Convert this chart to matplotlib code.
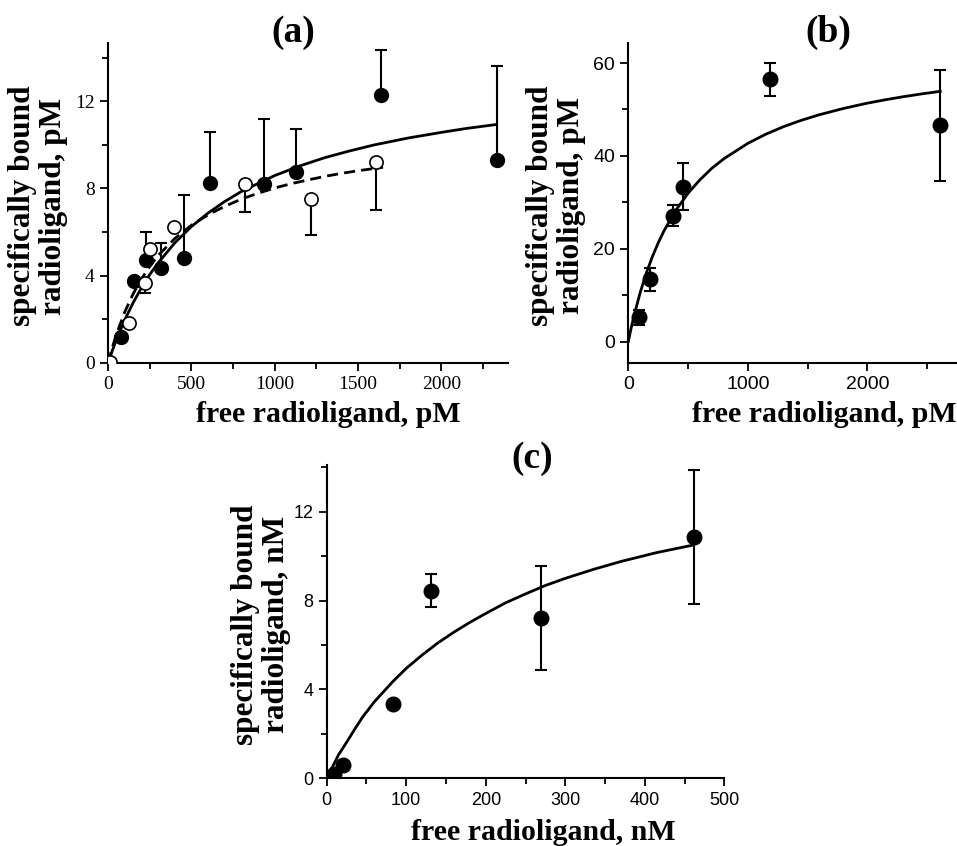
import numpy as np
import matplotlib as mpl
mpl.use('Agg')
import matplotlib.pyplot as plt
from matplotlib.ticker import MultipleLocator

mpl.rc('axes', linewidth=1.5)

# ---- panel (a): filled = set 1, open = set 2 ----
a_fill_x = [80, 156, 230, 316, 454, 614, 934, 1130, 1636, 2334]
a_fill_y = [1.2, 3.77, 4.72, 4.37, 4.83, 8.26, 8.21, 8.77, 12.28, 9.32]
a_fill_err = [0, 0, 1.30, 1.12, 2.88, 2.33, 2.98, 1.97, 2.06, 4.30]

a_open_x = [10, 126, 224, 250, 396, 820, 1216, 1610]
a_open_y = [0.05, 1.84, 3.68, 5.21, 6.21, 8.21, 7.51, 9.2]
a_open_err = [0, 0, 0.49, 0, 0, 1.30, 1.66, 2.21]

# fitted curves
a_fit_x = [0, 25, 50, 100, 150, 200, 250, 300, 400, 500, 600, 700, 800, 1000,
           1150, 1300, 1450, 1600, 1800, 2000, 2150, 2330]
a_fit_y = [0, 0.55, 1.06, 1.97, 2.75, 3.44, 4.05, 4.58, 5.50, 6.25, 6.87, 7.40,
           7.86, 8.59, 9.03, 9.41, 9.72, 10.0, 10.31, 10.57, 10.75, 10.93]
a_dash_x = [0, 25, 50, 100, 150, 200, 250, 300, 400, 500, 600, 700, 800, 900,
            1000, 1100, 1200, 1300, 1400, 1500, 1650]
a_dash_y = [0, 0.69, 1.31, 2.33, 3.16, 3.85, 4.42, 4.92, 5.70, 6.31, 6.79, 7.18,
            7.51, 7.78, 8.02, 8.22, 8.39, 8.55, 8.69, 8.81, 8.97]

# ---- panel (b) ----
b_x = [89, 181, 376, 460, 1184, 2610]
b_y = [5.24, 13.4, 27.1, 33.4, 56.5, 46.6]
b_err = [1.6, 2.4, 2.3, 5.0, 3.5, 12.0]
b_fit_x = [0, 25, 50, 100, 150, 200, 250, 300, 400, 500, 600, 700, 800, 1000,
           1150, 1300, 1450, 1600, 1800, 2000, 2150, 2300, 2450, 2610]
b_fit_y = [0, 3.02, 5.77, 10.59, 14.68, 18.19, 21.24, 23.91, 28.37, 31.95, 34.87,
           37.35, 39.39, 42.70, 44.67, 46.31, 47.69, 48.88, 50.22, 51.36, 52.09,
           52.75, 53.34, 53.91]

# ---- panel (c) ----
c_x = [9.2, 21, 83, 131, 269, 462]
c_y = [0.2, 0.6, 3.35, 8.44, 7.23, 10.86]
c_err = [0, 0, 0, 0.75, 2.34, 3.0]
c_fit_x = [0, 5, 15, 25, 35, 45, 60, 83, 100, 120, 140, 160, 180, 200, 225, 250,
           275, 300, 335, 370, 415, 461]
c_fit_y = [0, 0.35, 1.07, 1.62, 2.2, 2.75, 3.45, 4.35, 4.95, 5.55, 6.1, 6.58, 7.02,
           7.42, 7.9, 8.3, 8.68, 9.0, 9.4, 9.76, 10.16, 10.5]

ylab_top = 'specifically bound\nradioligand, pM'
ylab_c = 'specifically bound\nradioligand, nM'
serif = 'Liberation Serif'
sans = 'Liberation Sans'
ylab_size = 22.5
xlab_size = 21.5

fig = plt.figure(figsize=(9.57, 8.46), dpi=100)


def style_axes(ax, tickfont, tsize):
    ax.spines['top'].set_visible(False)
    ax.spines['right'].set_visible(False)
    ax.tick_params(which='major', direction='out', length=6, width=1.3)
    ax.tick_params(which='minor', direction='out', length=4, width=1.3)
    for lab in ax.get_xticklabels() + ax.get_yticklabels():
        lab.set_fontfamily(tickfont)
        lab.set_fontsize(tsize)


# (a)
ax1 = fig.add_axes([0.1129, 0.571, 0.418, 0.378])
ax1.errorbar(a_fill_x, a_fill_y, yerr=[np.zeros(len(a_fill_err)), a_fill_err],
             fmt='none', ecolor='k', elinewidth=1.5, capsize=4, capthick=1.5)
ax1.errorbar(a_open_x, a_open_y, yerr=[a_open_err, np.zeros(len(a_open_err))],
             fmt='none', ecolor='k', elinewidth=1.5, capsize=4, capthick=1.5)
ax1.plot(a_fit_x, a_fit_y, 'k-', lw=2)
ax1.plot(a_dash_x, a_dash_y, 'k--', lw=2, dashes=(4, 2.2))
ax1.plot(a_fill_x, a_fill_y, 'o', ms=10, mfc='k', mec='k', zorder=5)
ax1.plot(a_open_x, a_open_y, 'o', ms=9.5, mfc='w', mec='k', mew=1.2, zorder=5)
ax1.set_xlim(0, 2400)
ax1.set_ylim(0, 14.66)
ax1.xaxis.set_major_locator(MultipleLocator(500))
ax1.xaxis.set_minor_locator(MultipleLocator(250))
ax1.yaxis.set_major_locator(MultipleLocator(4))
ax1.yaxis.set_minor_locator(MultipleLocator(2))
style_axes(ax1, serif, 14)
ax1.set_ylabel(ylab_top, fontfamily=serif, fontweight='bold', fontsize=ylab_size,
               linespacing=1.08)
ax1.yaxis.set_label_coords(-0.10, 0.49)
ax1.set_xlabel('free radioligand, pM', fontfamily=serif, fontweight='bold',
               fontsize=xlab_size)
ax1.xaxis.set_label_coords(0.55, -0.12)
fig.text(293 / 957, 1 - 32 / 846, '(a)', ha='center', va='center',
         fontfamily=serif, fontweight='bold', fontsize=27)

# (b)
ax2 = fig.add_axes([0.6565, 0.571, 0.3435, 0.3786])
ax2.errorbar(b_x, b_y, yerr=b_err, fmt='none', ecolor='k', elinewidth=1.5,
             capsize=4, capthick=1.5)
ax2.plot(b_fit_x, b_fit_y, 'k-', lw=2)
ax2.plot(b_x, b_y, 'o', ms=10.5, mfc='k', mec='k', zorder=5)
ax2.set_xlim(0, 2750)
ax2.set_ylim(-4.6, 64.4)
ax2.xaxis.set_major_locator(MultipleLocator(1000))
ax2.xaxis.set_minor_locator(MultipleLocator(500))
ax2.yaxis.set_major_locator(MultipleLocator(20))
ax2.yaxis.set_minor_locator(MultipleLocator(10))
style_axes(ax2, sans, 14)
ax2.set_ylabel(ylab_top, fontfamily=serif, fontweight='bold', fontsize=ylab_size,
               linespacing=1.08)
ax2.yaxis.set_label_coords(-0.13, 0.49)
ax2.set_xlabel('free radioligand, pM', fontfamily=serif, fontweight='bold',
               fontsize=xlab_size)
ax2.xaxis.set_label_coords(0.595, -0.12)
fig.text(828 / 957, 1 - 32 / 846, '(b)', ha='center', va='center',
         fontfamily=serif, fontweight='bold', fontsize=27)

# (c)
ax3 = fig.add_axes([0.3414, 0.080, 0.4155, 0.3703])
ax3.errorbar(c_x, c_y, yerr=c_err, fmt='none', ecolor='k', elinewidth=1.5,
             capsize=4, capthick=1.5)
ax3.plot(c_fit_x, c_fit_y, 'k-', lw=2)
ax3.plot(c_x, c_y, 'o', ms=10.5, mfc='k', mec='k', zorder=5)
ax3.set_xlim(0, 500)
ax3.set_ylim(0, 14.1)
ax3.xaxis.set_major_locator(MultipleLocator(100))
ax3.xaxis.set_minor_locator(MultipleLocator(50))
ax3.yaxis.set_major_locator(MultipleLocator(4))
ax3.yaxis.set_minor_locator(MultipleLocator(2))
style_axes(ax3, sans, 13)
ax3.set_ylabel(ylab_c, fontfamily=serif, fontweight='bold', fontsize=ylab_size,
               linespacing=1.08)
ax3.yaxis.set_label_coords(-0.09, 0.49)
ax3.set_xlabel('free radioligand, nM', fontfamily=serif, fontweight='bold',
               fontsize=xlab_size)
ax3.xaxis.set_label_coords(0.545, -0.13)
fig.text(532 / 957, 1 - 458 / 846, '(c)', ha='center', va='center',
         fontfamily=serif, fontweight='bold', fontsize=27)

fig.savefig('out.png', dpi=100)
